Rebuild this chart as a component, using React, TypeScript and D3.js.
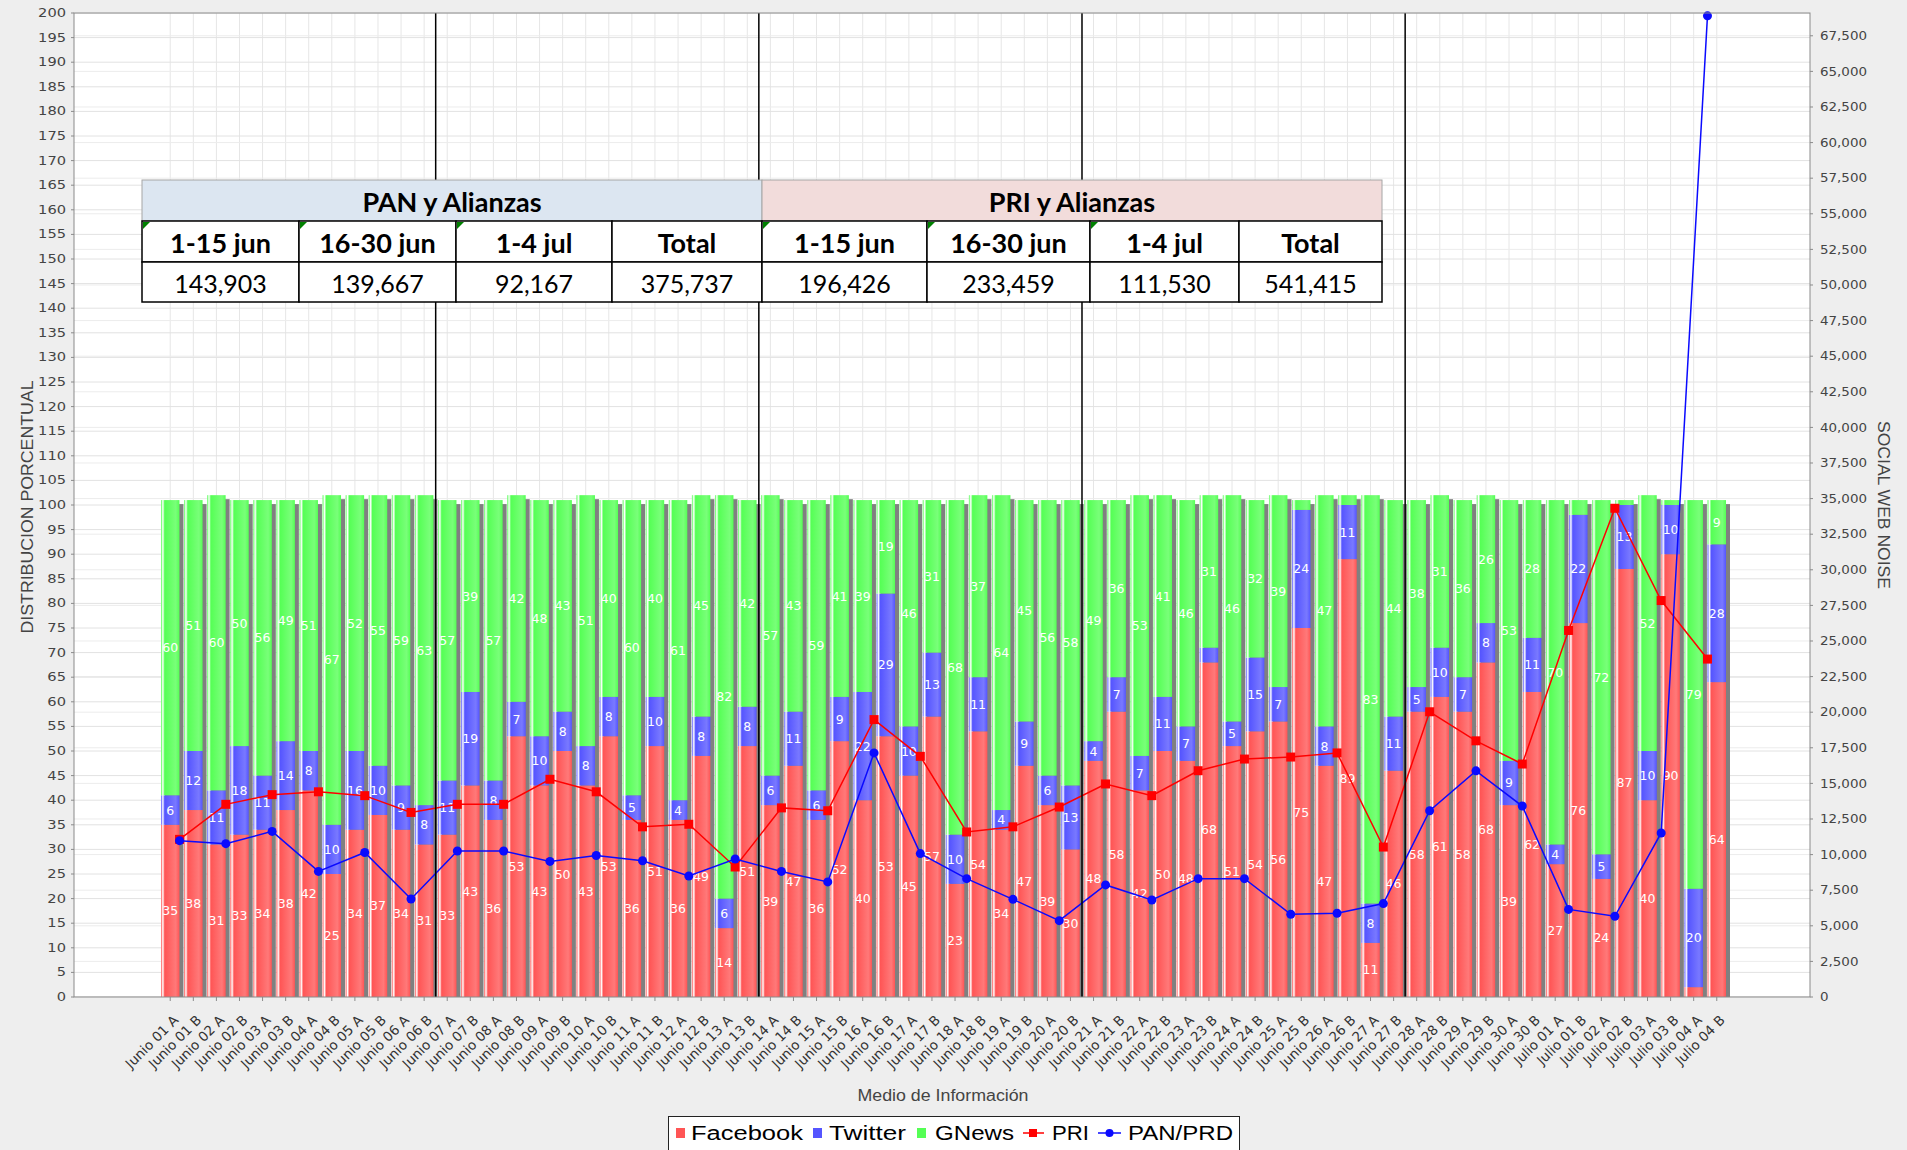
import React from "react";
import * as d3 from "d3";

const categories = [
  "Junio 01 A","Junio 01 B","Junio 02 A","Junio 02 B","Junio 03 A","Junio 03 B","Junio 04 A","Junio 04 B","Junio 05 A","Junio 05 B",
  "Junio 06 A","Junio 06 B","Junio 07 A","Junio 07 B","Junio 08 A","Junio 08 B","Junio 09 A","Junio 09 B","Junio 10 A","Junio 10 B",
  "Junio 11 A","Junio 11 B","Junio 12 A","Junio 12 B","Junio 13 A","Junio 13 B","Junio 14 A","Junio 14 B","Junio 15 A","Junio 15 B",
  "Junio 16 A","Junio 16 B","Junio 17 A","Junio 17 B","Junio 18 A","Junio 18 B","Junio 19 A","Junio 19 B","Junio 20 A","Junio 20 B",
  "Junio 21 A","Junio 21 B","Junio 22 A","Junio 22 B","Junio 23 A","Junio 23 B","Junio 24 A","Junio 24 B","Junio 25 A","Junio 25 B",
  "Junio 26 A","Junio 26 B","Junio 27 A","Junio 27 B","Junio 28 A","Junio 28 B","Junio 29 A","Junio 29 B","Junio 30 A","Junio 30 B",
  "Julio 01 A","Julio 01 B","Julio 02 A","Julio 02 B","Julio 03 A","Julio 03 B","Julio 04 A","Julio 04 B"
];

const days = [
  "Junio 01","Junio 02","Junio 03","Junio 04","Junio 05","Junio 06","Junio 07","Junio 08","Junio 09","Junio 10",
  "Junio 11","Junio 12","Junio 13","Junio 14","Junio 15","Junio 16","Junio 17","Junio 18","Junio 19","Junio 20",
  "Junio 21","Junio 22","Junio 23","Junio 24","Junio 25","Junio 26","Junio 27","Junio 28","Junio 29","Junio 30",
  "Julio 01","Julio 02","Julio 03","Julio 04"
];

const facebook = [
  35,38,31,33,34,38,42,25,34,37,34,31,
  33,43,36,53,43,50,43,53,36,51,36,49,14,51,
  39,47,36,52,40,53,45,57,23,54,34,47,39,30,
  48,58,42,50,48,68,51,54,56,75,47,89,11,46,
  58,61,58,68,39,62,
  27,76,24,87,40,90,2,64
];
const twitter = [
  6,12,11,18,11,14,8,10,16,10,9,8,
  11,19,8,7,10,8,8,8,5,10,4,8,6,8,
  6,11,6,9,22,29,10,13,10,11,4,9,6,13,
  4,7,7,11,7,3,5,15,7,24,8,11,8,11,
  5,10,7,8,9,11,
  4,22,5,13,10,10,20,28
];
const gnews = [
  60,51,60,50,56,49,51,67,52,55,59,63,
  57,39,57,42,48,43,51,40,60,40,61,45,82,42,
  57,43,59,41,39,19,46,31,68,37,64,45,56,58,
  49,36,53,41,46,31,46,32,39,2,47,2,83,44,
  38,31,36,26,53,28,
  70,3,72,1,52,1,79,9
];

const pri = [
  11070,13530,14210,14410,14140,12960,13530,13530,15290,14410,
  11950,12130,9130,13280,13080,19480,16900,11590,11950,13340,
  14960,14140,15890,16710,16850,17140,10530,20030,17990,16360,
  25740,34320,27840,23730
];
const panPrd = [
  10980,10770,11630,8820,10150,6880,10250,10250,9520,9940,
  9570,8500,9690,8820,8080,17140,10070,8310,6860,5360,
  7870,6810,8310,8310,5810,5880,6560,13080,15880,13410,
  6150,5670,11520,68900
];

const leftTicks = [0,5,10,15,20,25,30,35,40,45,50,55,60,65,70,75,80,85,90,95,100,105,110,115,120,125,130,135,140,145,150,155,160,165,170,175,180,185,190,195,200];
const rightTicks = [0,2500,5000,7500,10000,12500,15000,17500,20000,22500,25000,27500,30000,32500,35000,37500,40000,42500,45000,47500,50000,52500,55000,57500,60000,62500,65000,67500];

const weekStarts = ["Junio 07 A","Junio 14 A","Junio 21 A","Junio 28 A"];

const barKeys = ["Facebook","Twitter","GNews"];
const lineKeys = ["PRI","PAN/PRD"];

const tableParties = ["PAN y Alianzas","PRI y Alianzas"];
const tablePeriods = ["1-15 jun","16-30 jun","1-4 jul","Total"];
const panTotals = ["143,903","139,667","92,167","375,737"];
const priTotals = ["196,426","233,459","111,530","541,415"];

const W = 1907, H = 1150;
const PL = 74, PR = 1810, PT = 13, PB = 997;

const barColor: Record<string, [string, string]> = {
  Facebook: ["#ff5555", "#ff7979"],
  Twitter: ["#5555ff", "#7979ff"],
  GNews: ["#55ff55", "#79ff79"],
};

export default function App() {
  const x = d3.scaleBand<string>().domain(categories).range([161, 1726]).paddingInner(0.2).paddingOuter(0);
  const xd = d3.scaleBand<string>().domain(days).range([161, 1726]).paddingInner(0.2).paddingOuter(0);
  const y = d3.scaleLinear().domain([0, 200]).range([PB, PT]);
  const y2 = d3.scaleLinear().domain([0, 69100]).range([PB, PT]);
  const bw = x.bandwidth();
  const gap = x.step() - bw;

  const rows = categories.map((c, i) => ({ cat: c, Facebook: facebook[i], Twitter: twitter[i], GNews: gnews[i] }));
  const stacked = d3.stack<any>().keys(barKeys)(rows as any);
  const totals = rows.map((r) => r.Facebook + r.Twitter + r.GNews);

  const dx = (i: number) => (xd(days[i]) as number) + xd.bandwidth() / 2;
  const lineGen = d3.line<number>().x((_, i) => dx(i)).y((d) => y2(d));
  const fmt = d3.format(",");

  const tableCols = [142, 299, 456, 612, 762, 927, 1090, 1239, 1382];
  const tableRows = [180, 221, 262, 302];

  return (
    <svg width={W} height={H} style={{ position: "absolute", left: 0, top: 0, display: "block" }}>
      <defs>
        {barKeys.map((k) => (
          <linearGradient key={k} id={`grad-${k}`} x1="0" x2="1" y1="0" y2="0">
            <stop offset="0" stopColor={barColor[k][0]} />
            <stop offset="0.1" stopColor="#ffffff" />
            <stop offset="0.2" stopColor={barColor[k][0]} />
            <stop offset="0.8" stopColor={barColor[k][1]} />
            <stop offset="1" stopColor={barColor[k][0]} />
          </linearGradient>
        ))}
        <clipPath id="plotClip">
          <rect x={PL} y={PT} width={PR - PL} height={PB - PT} />
        </clipPath>
      </defs>
      <rect x={0} y={0} width={W} height={H} fill="#eeeeee" />
      <rect x={PL} y={PT} width={PR - PL} height={PB - PT} fill="#ffffff" />

      {/* gridlines */}
      <g clipPath="url(#plotClip)">
        {categories.map((c) => (
          <line key={c} x1={(x(c) as number) + bw / 2} x2={(x(c) as number) + bw / 2} y1={PT} y2={PB} stroke="#e6e6e6" strokeWidth={1} />
        ))}
        {rightTicks.map((t) => (
          <line key={"r" + t} x1={PL} x2={PR} y1={y2(t)} y2={y2(t)} stroke="#ececec" strokeWidth={1} />
        ))}
        {leftTicks.map((t) => (
          <line key={"l" + t} x1={PL} x2={PR} y1={y(t)} y2={y(t)} stroke="#e2e2e2" strokeWidth={1} />
        ))}
      </g>

      {/* bar shadows */}
      <g clipPath="url(#plotClip)">
        {categories.map((c, i) => (
          <rect key={c} x={(x(c) as number) + 4} y={y(totals[i]) + 4} width={bw} height={PB - y(totals[i])} fill="#808080" />
        ))}
      </g>

      {/* bars */}
      <g>
        {stacked.map((s) => (
          <g key={s.key}>
            {s.map((d, i) => (
              <rect
                key={i}
                x={x(categories[i]) as number}
                y={y(d[1])}
                width={bw}
                height={Math.max(0, y(d[0]) - y(d[1]))}
                fill={`url(#grad-${s.key})`}
              />
            ))}
          </g>
        ))}
      </g>

      {/* bar labels */}
      <g fontFamily="DejaVu Sans, sans-serif" fontSize={12.5} fill="#ffffff">
        {stacked.map((s) =>
          s.map((d, i) =>
            d[1] - d[0] >= 4 ? (
              <text
                key={s.key + i}
                x={(x(categories[i]) as number) + bw / 2}
                y={y((d[0] + d[1]) / 2)}
                textAnchor="middle"
                dominantBaseline="central"
              >
                {d[1] - d[0]}
              </text>
            ) : null
          )
        )}
      </g>

      {/* lines */}
      <path d={lineGen(pri) as string} fill="none" stroke="#ff0000" strokeWidth={1.5} />
      {pri.map((v, i) => (
        <rect key={"p" + i} x={dx(i) - 4.5} y={y2(v) - 4.5} width={9} height={9} fill="#ff0000" />
      ))}
      <path d={lineGen(panPrd) as string} fill="none" stroke="#0a0aff" strokeWidth={1.5} />
      {panPrd.map((v, i) => (
        <circle key={"b" + i} cx={dx(i)} cy={y2(v)} r={4.5} fill="#0a0aff" />
      ))}

      {/* week separators */}
      {weekStarts.map((c) => (
        <line key={c} x1={(x(c) as number) - gap / 2} x2={(x(c) as number) - gap / 2} y1={PT} y2={PB} stroke="#000000" strokeWidth={1.5} />
      ))}

      {/* plot outline & axes */}
      <rect x={PL} y={PT} width={PR - PL} height={PB - PT} fill="none" stroke="#8a8a8a" strokeWidth={1} />

      {/* left axis */}
      <g fontFamily="DejaVu Sans, sans-serif" fontSize={12} fill="#444444">
        {leftTicks.map((t) => (
          <g key={t}>
            <line x1={PL - 3} x2={PL} y1={y(t)} y2={y(t)} stroke="#8a8a8a" />
            <text transform={`translate(66,${y(t)}) scale(1.22,1)`} textAnchor="end" dominantBaseline="central">
              {t}
            </text>
          </g>
        ))}
      </g>
      {/* right axis */}
      <g fontFamily="DejaVu Sans, sans-serif" fontSize={12} fill="#444444">
        {rightTicks.map((t) => (
          <g key={t}>
            <line x1={PR} x2={PR + 3} y1={y2(t)} y2={y2(t)} stroke="#8a8a8a" />
            <text transform={`translate(1820,${y2(t)}) scale(1.12,1)`} textAnchor="start" dominantBaseline="central">
              {fmt(t)}
            </text>
          </g>
        ))}
      </g>
      {/* bottom axis */}
      <g fontFamily="DejaVu Sans, sans-serif" fontSize={13.5} fill="#333333">
        {categories.map((c) => {
          const cx = (x(c) as number) + bw / 2;
          return (
            <g key={c}>
              <line x1={cx} x2={cx} y1={PB} y2={PB + 4} stroke="#8a8a8a" />
              <text transform={`translate(${cx + 9},${1021}) rotate(-45)`} textAnchor="end">
                {c}
              </text>
            </g>
          );
        })}
      </g>

      {/* axis titles */}
      <text transform="translate(33,507) rotate(-90)" textAnchor="middle" fontFamily="Liberation Sans, Arial, sans-serif" fontSize={16} fill="#444444" textLength={253} lengthAdjust="spacingAndGlyphs">
        DISTRIBUCION PORCENTUAL
      </text>
      <text transform="translate(1878,505) rotate(90)" textAnchor="middle" fontFamily="Liberation Sans, Arial, sans-serif" fontSize={16} fill="#444444" textLength={168} lengthAdjust="spacingAndGlyphs">
        SOCIAL WEB NOISE
      </text>
      <text x={943} y={1101} textAnchor="middle" fontFamily="Liberation Sans, Arial, sans-serif" fontSize={16} fill="#444444" textLength={171} lengthAdjust="spacingAndGlyphs">
        Medio de Información
      </text>

      {/* table annotation */}
      <g fontFamily="Lato, 'Open Sans', sans-serif" fill="#000000">
        {tableParties.map((p, j) => {
          const x0 = tableCols[j * 4], x1 = tableCols[j * 4 + 4];
          return (
            <g key={p}>
              <rect x={x0} y={tableRows[0]} width={x1 - x0} height={tableRows[1] - tableRows[0]} fill={j === 0 ? "#dce6f1" : "#f2dcdb"} stroke="#a6a6a6" strokeWidth={1} />
              <text x={(x0 + x1) / 2} y={(tableRows[0] + tableRows[1]) / 2 + 1} textAnchor="middle" dominantBaseline="central" fontWeight={700} fontSize={27}>
                {p}
              </text>
            </g>
          );
        })}
        {tableParties.map((p, j) =>
          tablePeriods.map((per, k) => {
            const idx = j * 4 + k;
            const x0 = tableCols[idx], x1 = tableCols[idx + 1];
            const vals = j === 0 ? panTotals : priTotals;
            return (
              <g key={p + per}>
                <rect x={x0} y={tableRows[1]} width={x1 - x0} height={tableRows[2] - tableRows[1]} fill="#ffffff" stroke="#000000" strokeWidth={1.5} />
                <rect x={x0} y={tableRows[2]} width={x1 - x0} height={tableRows[3] - tableRows[2]} fill="#ffffff" stroke="#000000" strokeWidth={1.5} />
                {k < 3 ? <polygon points={`${x0 + 1},${tableRows[1] + 1} ${x0 + 8},${tableRows[1] + 1} ${x0 + 1},${tableRows[1] + 8}`} fill="#008000" /> : null}
                <text x={(x0 + x1) / 2} y={(tableRows[1] + tableRows[2]) / 2 + 1} textAnchor="middle" dominantBaseline="central" fontWeight={700} fontSize={27}>
                  {per}
                </text>
                <text x={(x0 + x1) / 2} y={(tableRows[2] + tableRows[3]) / 2 + 1} textAnchor="middle" dominantBaseline="central" fontWeight={400} fontSize={25}>
                  {vals[k]}
                </text>
              </g>
            );
          })
        )}
      </g>

      {/* legend */}
      <g fontFamily="Liberation Sans, Arial, sans-serif" fontSize={20} fill="#000000">
        <rect x={668.5} y={1116.5} width={571} height={40} fill="#ffffff" stroke="#222222" strokeWidth={1} />
        <rect x={676} y={1128} width={9} height={10} fill={barColor.Facebook[0]} />
        <text x={691} y={1140} textLength={112} lengthAdjust="spacingAndGlyphs">{barKeys[0]}</text>
        <rect x={813} y={1128} width={9} height={10} fill={barColor.Twitter[0]} />
        <text x={829} y={1140} textLength={77} lengthAdjust="spacingAndGlyphs">{barKeys[1]}</text>
        <rect x={917} y={1128} width={9} height={10} fill={barColor.GNews[0]} />
        <text x={935} y={1140} textLength={79} lengthAdjust="spacingAndGlyphs">{barKeys[2]}</text>
        <line x1={1023} x2={1044} y1={1133} y2={1133} stroke="#ff0000" strokeWidth={1.5} />
        <rect x={1029} y={1129} width={8} height={8} fill="#ff0000" />
        <text x={1052} y={1140} textLength={37} lengthAdjust="spacingAndGlyphs">{lineKeys[0]}</text>
        <line x1={1098} x2={1121} y1={1133} y2={1133} stroke="#0a0aff" strokeWidth={1.5} />
        <circle cx={1109.5} cy={1133} r={4} fill="#0a0aff" />
        <text x={1128} y={1140} textLength={105} lengthAdjust="spacingAndGlyphs">{lineKeys[1]}</text>
      </g>
    </svg>
  );
}
